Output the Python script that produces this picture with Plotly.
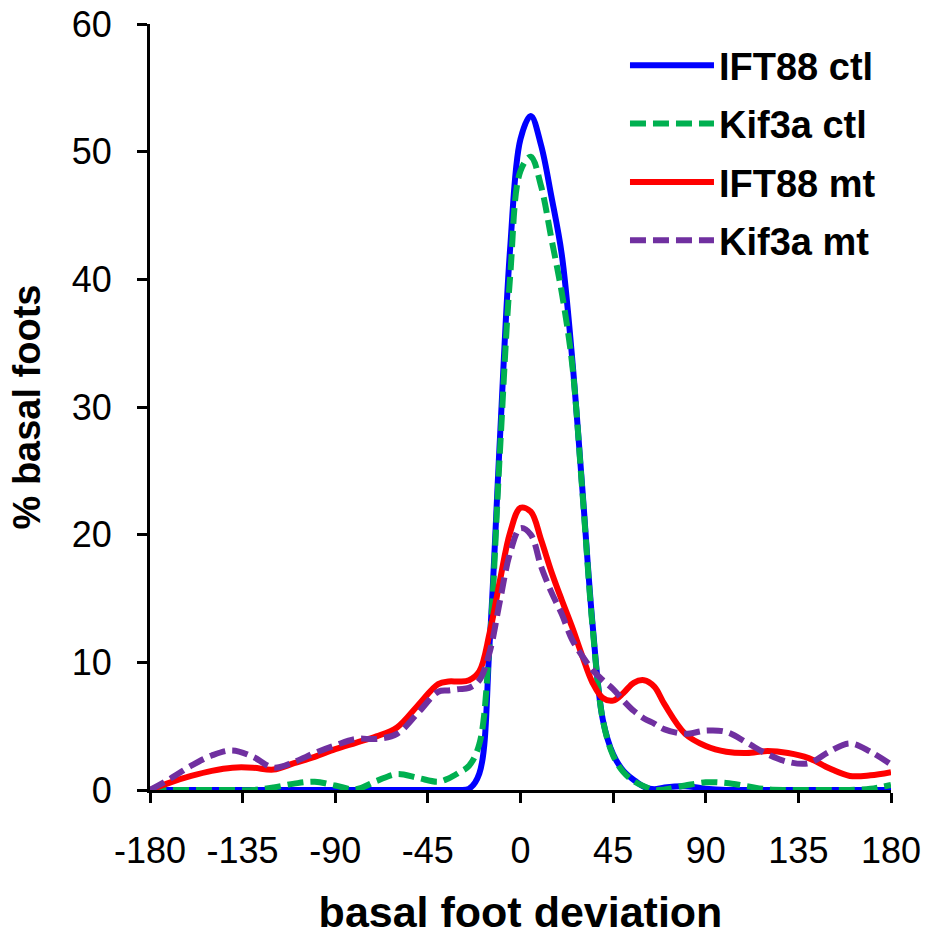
import plotly.graph_objects as go

# Angle bins (degrees)
angles = [-180, -170, -160, -150, -140, -130, -120, -110, -100, -90, -80, -70, -60, -50, -40,
          -35, -30, -25, -20, -15, -10, -5, 0, 5, 10, 15, 20, 25, 30, 35, 40, 45, 50, 55, 60, 65, 70,
          80, 90, 100, 110, 120, 130, 140, 150, 160, 170, 180]

ift88_ctl = [0, 0, 0, 0, 0, 0, 0, 0, 0, 0, 0, 0, 0, 0, 0,
             0, 0, 0.1, 1.3, 11.5, 27.5, 42.5, 51, 52.8, 50.5, 46.5, 42, 34, 23.7, 13, 5.5, 2.8, 1.5, 0.8, 0.25, 0.05, 0.2,
             0.3, 0.1, 0, 0, 0, 0, 0, 0, 0, 0, 0]

kif3a_ctl = [0, 0, 0, 0, 0, 0, 0.2, 0.5, 0.65, 0.35, 0.05, 0.7, 1.25, 0.95, 0.65,
             0.9, 1.35, 1.9, 3.6, 11.5, 26.5, 40.3, 48.5, 49.6, 47.3, 43.2, 39, 33.5, 23.5, 12.8, 5.5, 2.7, 1.4, 0.7, 0.3, 0.0, 0.05,
             0.35, 0.6, 0.55, 0.3, 0.05, 0, 0, 0, 0, 0.1, 0.4]

ift88_mt = [0, 0.6, 1.1, 1.5, 1.75, 1.75, 1.6, 2.1, 2.6, 3.2, 3.7, 4.2, 4.9, 6.6, 8.3,
            8.5, 8.5, 8.6, 9.3, 12.3, 16.4, 20.2, 22.1, 21.8, 19.6, 17.1, 14.9, 12.8, 10.5, 8.4, 7.2, 7.0, 7.6, 8.4, 8.6, 8.1, 6.7,
            4.4, 3.45, 3.0, 2.9, 3.05, 2.9, 2.5, 1.7, 1.1, 1.15, 1.4]

kif3a_mt = [0, 0.9, 1.9, 2.7, 3.1, 2.6, 1.75, 2.2, 2.9, 3.5, 4.0, 4.0, 4.4, 6.0, 7.7,
            7.8, 7.9, 8.0, 8.6, 10.8, 14.8, 18.6, 20.5, 20.0, 17.5, 15.5, 13.8, 11.8, 10.5, 9.4, 8.6, 7.9, 7.0, 6.2, 5.6, 5.2, 4.75,
            4.4, 4.65, 4.55, 3.7, 2.8, 2.2, 2.1, 3.0, 3.65, 3.0, 2.0]

series_names = ["IFT88 ctl", "Kif3a ctl", "IFT88 mt", "Kif3a mt"]
series_values = [ift88_ctl, kif3a_ctl, ift88_mt, kif3a_mt]
series_colors = ["#0000FF", "#00B050", "#FF0000", "#7030A0"]
series_dash = ["solid", "16px,7px", "solid", "16px,7px"]

x_ticks = [-180, -135, -90, -45, 0, 45, 90, 135, 180]
y_ticks = [0, 10, 20, 30, 40, 50, 60]

fig = go.Figure()
for name, vals, col, dash in zip(series_names, series_values, series_colors, series_dash):
    fig.add_trace(go.Scatter(
        x=angles, y=vals, name=name, mode="lines",
        line=dict(color=col, width=6, dash=dash, shape="spline", smoothing=1.0),
        legendgroup=name, cliponaxis=False,
    ))

font_main = "Liberation Sans, Arial, sans-serif"

fig.update_layout(
    width=930, height=936,
    paper_bgcolor="white", plot_bgcolor="white",
    margin=dict(l=150, r=39, t=24, b=146, autoexpand=False),
    font=dict(family=font_main, color="black"),
    showlegend=True,
    legend=dict(
        x=0.641, y=0.987, xanchor="left", yanchor="top",
        font=dict(family=font_main, size=38, weight="bold", color="black"),
        bgcolor="rgba(0,0,0,0)", itemwidth=84,
        traceorder="grouped", tracegroupgap=6,
    ),
    xaxis=dict(
        range=[-180, 180], tickmode="array", tickvals=x_ticks,
        ticktext=[str(v) for v in x_ticks], automargin=False,
        ticks="outside", ticklen=10, tickwidth=3, tickcolor="black",
        showline=True, linewidth=3, linecolor="black",
        showgrid=False, zeroline=False, ticklabeloverflow="allow",
        tickfont=dict(family=font_main, size=36, color="black"),
        ticklabelstandoff=17,
        title=dict(text="basal foot deviation", standoff=29,
                   font=dict(family=font_main, size=43, weight="bold", color="black")),
    ),
    yaxis=dict(
        range=[0, 60], tickmode="array", tickvals=y_ticks, automargin=False,
        ticks="outside", ticklen=10, tickwidth=3, tickcolor="black",
        showline=True, linewidth=3, linecolor="black",
        showgrid=False, zeroline=False, ticklabeloverflow="allow",
        tickfont=dict(family=font_main, size=36, color="black"),
        ticklabelstandoff=18,
        title=dict(text="% basal foots", standoff=20,
                   font=dict(family=font_main, size=38, weight="bold", color="black")),
    ),
)

fig.write_html(
    "out.html",
    config={"displayModeBar": False},
    post_script="document.body.style.margin='0px'; document.body.style.overflow='hidden';",
)
